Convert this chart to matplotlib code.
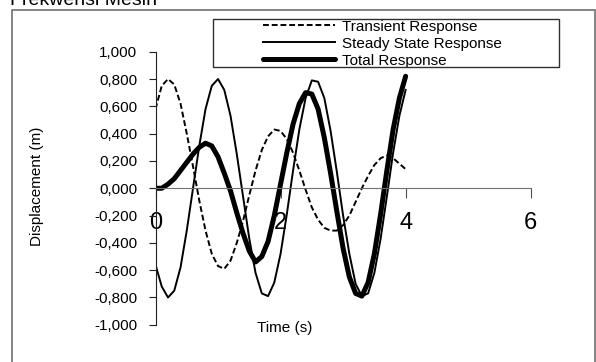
import matplotlib
matplotlib.use('Agg')
import matplotlib.pyplot as plt
from matplotlib.patches import Rectangle
from matplotlib.ticker import FuncFormatter

plt.rcParams['font.family'] = ['Liberation Sans', 'DejaVu Sans']

# dados (tempo em s, deslocamento em m)
tempo = [0.0, 0.1, 0.2, 0.3, 0.4, 0.5, 0.6, 0.7, 0.8, 0.9,
         1.0, 1.1, 1.2, 1.3, 1.4, 1.5, 1.6, 1.7, 1.8, 1.9,
         2.0, 2.1, 2.2, 2.3, 2.4, 2.5, 2.6, 2.7, 2.8, 2.9,
         3.0, 3.1, 3.2, 3.3, 3.4, 3.5, 3.6, 3.7, 3.8, 3.9, 4.0]
transient = [0.58, 0.75, 0.80, 0.76, 0.62, 0.40, 0.16, -0.09, -0.31, -0.48,
             -0.57, -0.59, -0.53, -0.40, -0.24, -0.05, 0.13, 0.28, 0.38, 0.43,
             0.42, 0.36, 0.26, 0.13, -0.01, -0.14, -0.23, -0.29, -0.31, -0.31,
             -0.27, -0.20, -0.10, 0.00, 0.09, 0.17, 0.22, 0.24, 0.22, 0.18, 0.14]
steady = [-0.56, -0.72, -0.80, -0.75, -0.58, -0.31, 0.00, 0.31, 0.58, 0.75,
          0.80, 0.72, 0.53, 0.25, -0.06, -0.37, -0.62, -0.77, -0.79, -0.69,
          -0.48, -0.19, 0.13, 0.43, 0.66, 0.79, 0.78, 0.66, 0.42, 0.12,
          -0.20, -0.48, -0.70, -0.79, -0.77, -0.62, -0.37, -0.06, 0.26, 0.53, 0.72]
total = [0.00, 0.00, 0.03, 0.07, 0.13, 0.19, 0.25, 0.30, 0.33, 0.31,
         0.23, 0.11, -0.02, -0.18, -0.33, -0.46, -0.54, -0.50, -0.39, -0.20,
         0.03, 0.26, 0.47, 0.62, 0.70, 0.69, 0.58, 0.37, 0.11, -0.17,
         -0.44, -0.65, -0.77, -0.79, -0.69, -0.48, -0.19, 0.13, 0.43, 0.66, 0.82]

x_ticks = [0, 2, 4, 6]
y_ticks = [-1.0, -0.8, -0.6, -0.4, -0.2, 0.0, 0.2, 0.4, 0.6, 0.8, 1.0]

W, H = 596, 362
fig = plt.figure(figsize=(W / 100, H / 100), dpi=100)
ax = fig.add_axes([155.5 / W, 1 - 324.8 / H, (530.7 - 155.5) / W, (324.8 - 51.7) / H])

# curvas
ax.plot(tempo, transient, color='black', lw=1.4, dashes=(3, 1.5), label='Transient Response')
ax.plot(tempo, steady, '-k', lw=1.4, label='Steady State Response')
ax.plot(tempo, total, '-k', lw=3.6, solid_capstyle='round', label='Total Response')

ax.set_xlim(0, 6)
ax.set_ylim(-1, 1)
ax.set_facecolor('none')

# eixos cruzando no zero, estilo Excel
ax.spines['top'].set_visible(False)
ax.spines['right'].set_visible(False)
ax.spines['bottom'].set_position(('data', 0))
ax.spines['left'].set_position(('data', 0))
ax.spines['bottom'].set_color('#707070')
ax.spines['left'].set_color('#202020')
ax.set_xticks(x_ticks)
ax.set_yticks(y_ticks)
ax.yaxis.set_major_formatter(FuncFormatter(lambda v, p: f'{v:.3f}'.replace('.', ',')))
ax.tick_params(axis='x', direction='out', length=7, labelsize=17, pad=10, color='#505050')
ax.tick_params(axis='y', direction='out', length=5, labelsize=11, pad=8, color='#202020')

# rotulos dos eixos
fig.text(37 / W, 1 - 186 / H, 'Displacement (m)', rotation=90, ha='center', va='center', fontsize=11)
fig.text(285 / W, 1 - 328 / H, 'Time (s)', ha='center', va='center', fontsize=11)

# titulo cortado no topo
fig.text(10 / W, 1 - 5 / H, 'Frekwensi Mesin', ha='left', va='baseline', fontsize=14)

# legenda com caixa propria
ax.legend(loc='upper left', bbox_to_anchor=(263 / W, 1 - 19.5 / H), bbox_transform=fig.transFigure,
          frameon=False, fontsize=11, handlelength=4.7, handletextpad=0.5,
          labelspacing=0.2, borderpad=0, borderaxespad=0)
fig.add_artist(Rectangle((213 / W, 1 - 67 / H), 346 / W, 48 / H, transform=fig.transFigure,
                         fill=False, edgecolor='#303030', lw=1))

# moldura externa
fig.add_artist(Rectangle((12 / W, -0.05), 583 / W, 1.05 - 10 / H, transform=fig.transFigure,
                         fill=False, edgecolor='#707070', lw=1.2))

fig.savefig('out.png', dpi=100)
